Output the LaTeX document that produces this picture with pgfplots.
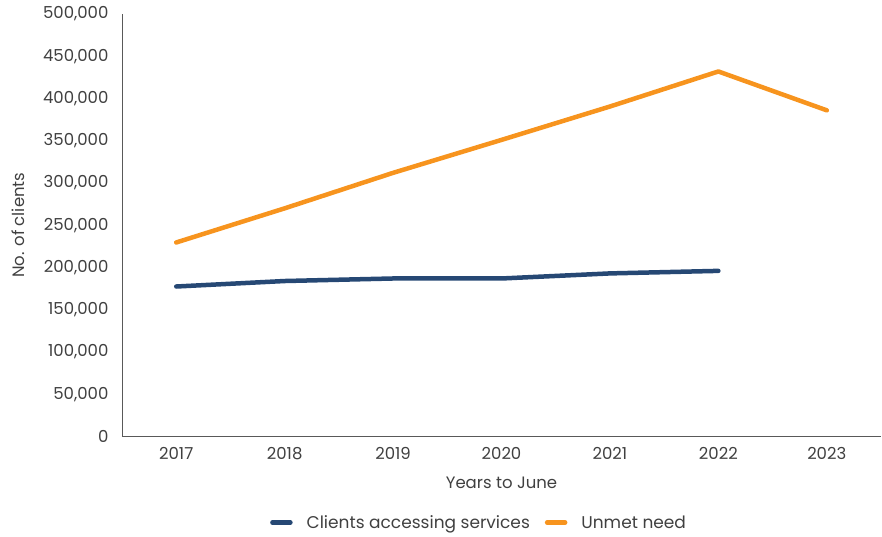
\documentclass[border=0pt]{standalone}
\usepackage{fontspec}
\setmainfont{Poppins}
\usepackage{pgfplots}
\pgfplotsset{compat=1.18}

\definecolor{clientblue}{HTML}{264874}
\definecolor{unmetorange}{HTML}{F7941E}
\definecolor{axisgray}{HTML}{595959}
\definecolor{textgray}{HTML}{404040}

\begin{document}
\begin{tikzpicture}
\begin{axis}[
  name=main,
  scale only axis,
  width=759pt, height=422.5pt,
  xmin=-0.5, xmax=6.5,
  ymin=0, ymax=500000,
  axis lines=left,
  axis line style={draw=axisgray, line width=0.9pt, -},
  xtick={0,...,6},
  xticklabels={2017,2018,2019,2020,2021,2022,2023},
  ytick={0,50000,...,500000},
  major tick length=0pt,
  tick style={draw=none},
  scaled y ticks=false,
  /pgf/number format/assume math mode=true,
  yticklabel={\pgfmathprintnumber[fixed, precision=0, 1000 sep={,}]{\tick}},
  tick label style={font=\fontsize{16.5}{19}\selectfont, text=textgray},
  xticklabel style={yshift=-7pt},
  yticklabel style={xshift=-10pt},
  label style={font=\fontsize{16.5}{19}\selectfont, text=textgray},
  xlabel={Years to June},
  ylabel={No. of clients},
  xlabel style={at={(axis description cs:0.5,-0.109)}, anchor=center},
  ylabel style={at={(axis description cs:-0.137,0.5)}, anchor=center, rotate=0},
  legend columns=2,
  legend style={at={(axis description cs:0.191,-0.2036)}, anchor=west,
    draw=none, fill=none, font=\fontsize{17}{20}\selectfont,
    text=textgray,
    /tikz/every odd column/.append style={column sep=12pt},
    /tikz/every even column/.append style={column sep=13pt}},
  legend image code/.code={\draw[#1, line width=4.5pt, line cap=round] (0pt,0pt) -- (18pt,0pt);},
  clip=false,
]
\addplot[clientblue, line width=4.5pt, line cap=round, line join=round]
  coordinates {(0,177500) (1,184000) (2,187000) (3,187000) (4,193000) (5,196000)};
\addlegendentry{Clients accessing services}
\addplot[unmetorange, line width=4.5pt, line cap=round, line join=round]
  coordinates {(0,229600) (1,270000) (2,312000) (3,351000) (4,390500) (5,432000) (6,386000)};
\addlegendentry{Unmet need}
\end{axis}
\pgfresetboundingbox
\useasboundingbox ([xshift=-122pt,yshift=-100pt]main.south west) rectangle ([xshift=1pt,yshift=14pt]main.north east);
\end{tikzpicture}
\end{document}
